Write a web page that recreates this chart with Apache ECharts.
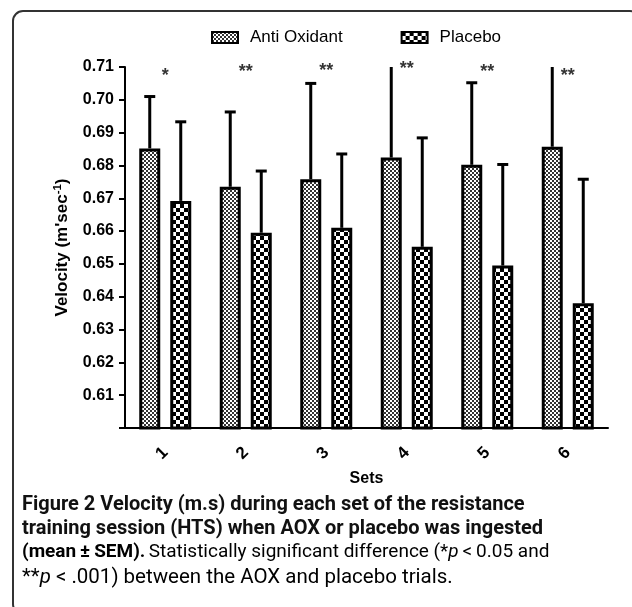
<!DOCTYPE html>
<html>
<head>
<meta charset="utf-8">
<script src="https://cdn.jsdelivr.net/npm/echarts@6/dist/echarts.min.js"></script>
<style>
html,body{margin:0;padding:0;background:#fff;}
#chart{width:632px;height:607px;}
</style>
</head>
<body>
<div id="chart"></div>
<script>
// ---- data ----
const categories = ['1', '2', '3', '4', '5', '6'];
const seriesNames = ['Anti Oxidant', 'Placebo'];
const aoxMean = [0.6852, 0.6735, 0.6758, 0.6824, 0.6802, 0.6857];
const aoxSem = [0.0158, 0.0228, 0.0292, 0.0310, 0.0250, 0.0290];
const placeboMean = [0.6692, 0.6595, 0.6610, 0.6552, 0.6495, 0.6380];
const placeboSem = [0.0241, 0.0188, 0.0225, 0.0332, 0.0308, 0.0378];
const starLabels = ['*', '**', '**', '**', '**', '**'];
const starY = [0.7073, 0.7085, 0.7088, 0.7094, 0.7085, 0.7073];
const yTicks = { min: 0.60, max: 0.71, interval: 0.01 };

// ---- patterns ----
function checker(cell, dark) {
  const c = document.createElement('canvas');
  c.width = c.height = cell * 2;
  const ctx = c.getContext('2d');
  ctx.fillStyle = '#fff';
  ctx.fillRect(0, 0, cell * 2, cell * 2);
  ctx.fillStyle = dark;
  ctx.fillRect(0, 0, cell, cell);
  ctx.fillRect(cell, cell, cell, cell);
  return { image: c, repeat: 'repeat' };
}
const fineFill = checker(2, '#333');
const coarseFill = checker(4, '#000');

const BAR_W = 21;
const BAR_GAP_PX = 10;
const OFFSET = (BAR_W + BAR_GAP_PX) / 2;

function errorSeries(means, sems, dir) {
  return {
    type: 'custom',
    clip: true,
    z: 5,
    silent: true,
    data: means.map((m, i) => [i, m, sems[i]]),
    renderItem: function (params, api) {
      const i = api.value(0), m = api.value(1), s = api.value(2);
      const p0 = api.coord([i, m]);
      const p1 = api.coord([i, m + s]);
      const x = p0[0] + dir * OFFSET;
      return {
        type: 'group',
        children: [
          { type: 'line', shape: { x1: x, y1: p0[1], x2: x, y2: p1[1] }, style: { stroke: '#000', lineWidth: 3 } },
          { type: 'line', shape: { x1: x - 5.5, y1: p1[1], x2: x + 5.5, y2: p1[1] }, style: { stroke: '#000', lineWidth: 3 } }
        ]
      };
    }
  };
}

const chart = echarts.init(document.getElementById('chart'), null, { renderer: 'canvas' });
const axisFont = { fontFamily: 'Liberation Sans', fontWeight: 'bold', fontSize: 16, color: '#000' };
const capFont = 'Roboto';
const capSize = 20;

chart.setOption({
  animation: false,
  backgroundColor: '#fff',
  legend: {
    data: seriesNames,
    left: 206,
    top: 24,
    icon: 'rect',
    itemWidth: 26,
    itemHeight: 11,
    itemGap: 58,
    textStyle: { fontFamily: 'Liberation Sans', fontSize: 17, color: '#000', padding: [0, 0, 0, 7] }
  },
  grid: { left: 125, right: 24, top: 67, bottom: 179 },
  xAxis: {
    type: 'category',
    data: categories,
    name: 'Sets',
    nameLocation: 'middle',
    nameGap: 43,
    nameTextStyle: Object.assign({}, axisFont, { fontSize: 16 }),
    axisLine: { lineStyle: { color: '#000', width: 2 } },
    axisTick: { alignWithLabel: true, length: 6, lineStyle: { color: '#000', width: 2 } },
    axisLabel: Object.assign({ rotate: 45, margin: 22 }, axisFont, { fontSize: 17 })
  },
  yAxis: {
    type: 'value',
    min: yTicks.min,
    max: yTicks.max,
    interval: yTicks.interval,
    name: '{a|Velocity (m\'sec}{s|-1}{a|)}',
    nameLocation: 'middle',
    nameGap: 52,
    nameTextStyle: {
      rich: {
        a: { fontFamily: 'Liberation Sans', fontWeight: 'bold', fontSize: 17, color: '#000' },
        s: { fontFamily: 'Liberation Sans', fontWeight: 'bold', fontSize: 11.5, color: '#000', padding: [0, 0, 9, 0] }
      }
    },
    splitLine: { show: false },
    axisLine: { show: true, lineStyle: { color: '#000', width: 2 } },
    axisTick: { show: true, length: 6, lineStyle: { color: '#000', width: 2 } },
    axisLabel: Object.assign({
      margin: 11,
      formatter: v => (Math.abs(v - yTicks.min) < 1e-9 ? '' : v.toFixed(2))
    }, axisFont)
  },
  series: [
    {
      name: seriesNames[0],
      type: 'bar',
      data: aoxMean,
      barWidth: BAR_W,
      barGap: (BAR_GAP_PX / BAR_W * 100) + '%',
      itemStyle: { color: fineFill, borderColor: '#000', borderWidth: 3 }
    },
    {
      name: seriesNames[1],
      type: 'bar',
      data: placeboMean,
      barWidth: BAR_W,
      itemStyle: { color: coarseFill, borderColor: '#000', borderWidth: 3 }
    },
    errorSeries(aoxMean, aoxSem, -1),
    errorSeries(placeboMean, placeboSem, 1),
    {
      type: 'scatter',
      symbolSize: 0,
      silent: true,
      z: 6,
      data: starLabels.map((s, i) => [i, starY[i], s]),
      label: {
        show: true,
        position: 'inside',
        formatter: p => p.value[2],
        fontFamily: 'Liberation Sans',
        fontWeight: 'bold',
        fontSize: 18,
        color: '#000'
      }
    }
  ],
  graphic: [
    {
      type: 'rect',
      shape: { x: 13, y: 11, width: 627, height: 603, r: 10 },
      style: { fill: null, stroke: '#333', lineWidth: 2 },
      silent: true
    },
    {
      type: 'text', left: 22, top: 495,
      style: { text: 'Figure 2 Velocity (m.s) during each set of the resistance', font: 'bold ' + capSize + 'px ' + capFont, fill: '#111' }
    },
    {
      type: 'text', left: 22, top: 519,
      style: { text: 'training session (HTS) when AOX or placebo was ingested', font: 'bold ' + capSize + 'px ' + capFont, fill: '#111' }
    },
    {
      type: 'text', left: 22, top: 543,
      style: {
        text: '{b|(mean\u2009±\u2009SEM).} {r|Statistically significant difference (*}{i|p}{r|\u2009<\u20090.05 and}',
        rich: {
          b: { fontFamily: capFont, fontWeight: 'bold', fontSize: 19, color: '#111' },
          r: { fontFamily: capFont, fontWeight: 'normal', fontSize: 19, color: '#333' },
          i: { fontFamily: capFont, fontStyle: 'italic', fontSize: 19, color: '#333' }
        }
      }
    },
    {
      type: 'text', left: 22, top: 567,
      style: {
        text: '{r|**}{i|p}{r| < .001) between the AOX and placebo trials.}',
        rich: {
          r: { fontFamily: capFont, fontWeight: 'normal', fontSize: 20.5, color: '#333' },
          i: { fontFamily: capFont, fontStyle: 'italic', fontSize: 20.5, color: '#333' }
        }
      }
    }
  ]
});
</script>
</body>
</html>
